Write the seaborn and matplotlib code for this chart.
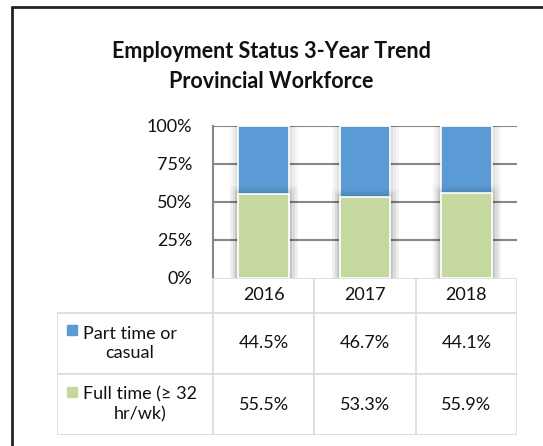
import matplotlib

matplotlib.use("Agg")
import matplotlib.patheffects as pe
import matplotlib.pyplot as plt
import pandas as pd
import seaborn as sns
from matplotlib.lines import Line2D

years = ["2016", "2017", "2018"]
part_time = [44.5, 46.7, 44.1]
full_time = [55.5, 53.3, 55.9]
series_labels = ["Part time or\ncasual", "Full time (\u2265 32\nhr/wk)"]
y_ticks = [0, 25, 50, 75, 100]

BLUE = "#5b9bd5"
GREEN = "#c5d89f"
GRID = "#878787"
TABLE_LINE = "#d9d9d9"

sns.set_theme(style="white")
plt.rcParams["font.family"] = ["Lato", "DejaVu Sans"]

W, H = 543, 446
fig = plt.figure(figsize=(W / 100, H / 100), dpi=100)


def fx(px):
    return px / W


def fy(py):
    return 1 - py / H


# outer chart border (only top and left visible)
fig.add_artist(Line2D([fx(12), fx(12)], [fy(7), 0], color="#222222", lw=2))
fig.add_artist(Line2D([fx(12), 1], [fy(7), fy(7)], color="#222222", lw=2))

fig.text(fx(271), fy(51), "Employment Status 3-Year Trend", ha="center", va="center",
         fontsize=15.5, fontweight="bold", color="#111111")
fig.text(fx(271), fy(81), "Provincial Workforce", ha="center", va="center",
         fontsize=15.5, fontweight="bold", color="#111111")

# plot area
left, right, top, bottom = 213, 517, 126, 278
ax = fig.add_axes([fx(left), fy(bottom), fx(right - left), (bottom - top) / H])

df = pd.DataFrame({"year": years, "part": part_time, "full": full_time})
df["total"] = df["part"] + df["full"]

# soft glow behind the columns, like the spreadsheet's shadow effect
shadow = [
    pe.Stroke(linewidth=12, foreground="black", alpha=0.03),
    pe.Stroke(linewidth=8, foreground="black", alpha=0.04),
    pe.Stroke(linewidth=4, foreground="black", alpha=0.06),
    pe.Normal(),
]

sns.barplot(data=df, x="year", y="total", color=BLUE, saturation=1, width=0.5,
            edgecolor="white", linewidth=1.2, ax=ax, zorder=3)
sns.barplot(data=df, x="year", y="full", color=GREEN, saturation=1, width=0.5,
            edgecolor="white", linewidth=1.2, ax=ax, zorder=3)
for p in ax.patches:
    p.set_path_effects(shadow)

ax.set_ylim(0, 100)
ax.set_xlim(-0.5, 2.5)
ax.set_yticks(y_ticks)
ax.set_yticklabels([f"{t}%" for t in y_ticks], fontsize=13, color="#111111")
ax.set_xticks([])
ax.set_xlabel("")
ax.set_ylabel("")
ax.tick_params(axis="y", length=0, pad=15)
for t in y_ticks[1:]:
    ax.axhline(t, color=GRID, lw=1.5, zorder=1)
for s in ["top", "right", "bottom"]:
    ax.spines[s].set_visible(False)
ax.spines["left"].set_color(GRID)
ax.spines["left"].set_linewidth(1.5)

# data table below the plot
tab_left, tab_bottom = 57, 435
header_bot, row1_bot = 313, 374
col_w = (right - left) / len(years)
tax = fig.add_axes([fx(tab_left), fy(tab_bottom), fx(right - tab_left), (tab_bottom - bottom) / H])
tax.set_xlim(tab_left, right)
tax.set_ylim(tab_bottom, bottom)
tax.axis("off")

lk = dict(color=TABLE_LINE, lw=1.2)
tax.plot([left, right], [bottom, bottom], **lk)
for yy in [header_bot, row1_bot, tab_bottom]:
    tax.plot([tab_left, right], [yy, yy], **lk)
tax.plot([tab_left, tab_left], [header_bot, tab_bottom], **lk)
for i in range(len(years) + 1):
    xx = left + i * col_w
    tax.plot([xx, xx], [bottom, tab_bottom], **lk)

for i, yr in enumerate(years):
    cx = left + (i + 0.5) * col_w
    tax.text(cx, (bottom + header_bot) / 2, yr, ha="center", va="center", fontsize=13, color="#111111")
    tax.text(cx, (header_bot + row1_bot) / 2, f"{part_time[i]:.1f}%", ha="center", va="center",
             fontsize=13, color="#111111")
    tax.text(cx, (row1_bot + tab_bottom) / 2, f"{full_time[i]:.1f}%", ha="center", va="center",
             fontsize=13, color="#111111")

rows = [(header_bot, row1_bot, BLUE, series_labels[0]), (row1_bot, tab_bottom, GREEN, series_labels[1])]
for y0, y1, col, lab in rows:
    cy = (y0 + y1) / 2
    tax.text(83, cy, lab, ha="left", va="center", multialignment="center", fontsize=13,
             color="#111111", linespacing=1.25)
    tax.plot([71.5], [cy - 13], marker="s", markersize=6.5, color=col, mec=col)

fig.savefig("out.png", dpi=100)
